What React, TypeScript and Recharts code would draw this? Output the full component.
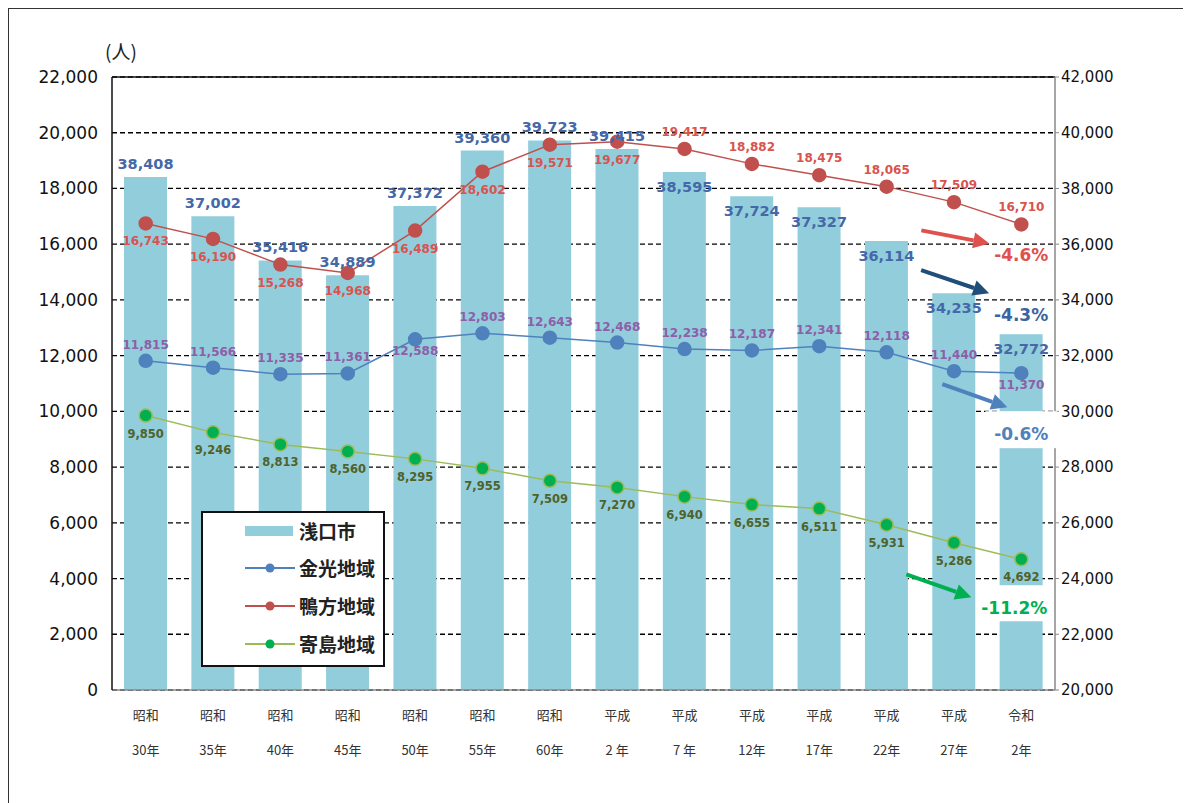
import React from "react";
import {
  ComposedChart,
  Bar,
  Line,
  XAxis,
  YAxis,
  CartesianGrid,
  ReferenceLine,
  LabelList,
} from "recharts";

const eras = ["昭和", "昭和", "昭和", "昭和", "昭和", "昭和", "昭和", "平成", "平成", "平成", "平成", "平成", "平成", "令和"];
const years = ["30年", "35年", "40年", "45年", "50年", "55年", "60年", "2 年", "7 年", "12年", "17年", "22年", "27年", "2年"];

const asakuchi = [38408, 37002, 35416, 34889, 37372, 39360, 39723, 39415, 38595, 37724, 37327, 36114, 34235, 32772];
const konko = [11815, 11566, 11335, 11361, 12588, 12803, 12643, 12468, 12238, 12187, 12341, 12118, 11440, 11370];
const kamogata = [16743, 16190, 15268, 14968, 16489, 18602, 19571, 19677, 19417, 18882, 18475, 18065, 17509, 16710];
const yorishima = [9850, 9246, 8813, 8560, 8295, 7955, 7509, 7270, 6940, 6655, 6511, 5931, 5286, 4692];

const leftTicks = [0, 2000, 4000, 6000, 8000, 10000, 12000, 14000, 16000, 18000, 20000, 22000];
const rightTicks = [20000, 22000, 24000, 26000, 28000, 30000, 32000, 34000, 36000, 38000, 40000, 42000];

const data = years.map((y, i) => ({
  name: eras[i] + y,
  asakuchi: asakuchi[i],
  konko: konko[i],
  kamogata: kamogata[i],
  yorishima: yorishima[i],
}));

const last = years.length - 1;
const fmt = (v: number) => v.toLocaleString("en-US");
const labelFont = "'DejaVu Sans', Verdana, sans-serif";

const Arrow = ({ x1, y1, x2, y2, color }: any) => {
  const a = Math.atan2(y2 - y1, x2 - x1);
  const len = 16;
  const w = 8;
  const bx = x2 - len * Math.cos(a);
  const by = y2 - len * Math.sin(a);
  const px = -Math.sin(a) * w;
  const py = Math.cos(a) * w;
  return (
    <g>
      <line x1={x1} y1={y1} x2={bx} y2={by} stroke={color} strokeWidth={4} />
      <polygon points={`${x2},${y2} ${bx + px},${by + py} ${bx - px},${by - py}`} fill={color} />
    </g>
  );
};

// white box behind the % text cuts a gap into the last bar, like the original
const PctText = ({ x, y, text, color, bg }: any) => (
  <g>
    {bg && <rect x={x - 36} y={y - 29} width={72} height={bg} fill="#fff" />}
    <text x={x} y={y} textAnchor="middle" fill={color} fontSize={17} fontWeight="bold" fontFamily={labelFont}>
      {text}
    </text>
  </g>
);

const BarLabel = (props: any) => {
  const { x, width, y, value, index } = props;
  const cx = x + width / 2;
  const inside = index >= 8;
  const ty = inside ? y + 20 : y - 8;
  return (
    <g>
      <text x={cx} y={ty} textAnchor="middle" fill="#4468a8" fontSize={14.5} fontWeight="bold" fontFamily={labelFont}>
        {fmt(value)}
      </text>
      {index === last && (
        <g>
          <Arrow x1={cx - 100} y1={y - 64} x2={cx - 32} y2={y - 41} color="#1f4e79" />
          <PctText x={cx} y={y - 13} text="-4.3%" color="#3a64a0" />
        </g>
      )}
    </g>
  );
};

const KonkoLabel = (props: any) => {
  const { x, y, value, index } = props;
  const below = index === 4 || index === last;
  return (
    <g>
      <text x={x} y={below ? y + 16 : y - 12} textAnchor="middle" fill="#8e5ea8" fontSize={12} fontWeight="bold" fontFamily={labelFont}>
        {fmt(value)}
      </text>
      {index === last && (
        <g>
          <Arrow x1={x - 79} y1={y + 11} x2={x - 14} y2={y + 34} color="#4f81bd" />
          <PctText x={x} y={y + 67} text="-0.6%" color="#4f81bd" bg={37} />
        </g>
      )}
    </g>
  );
};

const KamogataLabel = (props: any) => {
  const { x, y, value, index } = props;
  const above = index >= 8;
  return (
    <g>
      <text x={x} y={above ? y - 13 : y + 22} textAnchor="middle" fill="#d9534f" fontSize={12} fontWeight="bold" fontFamily={labelFont}>
        {fmt(value)}
      </text>
      {index === last && (
        <g>
          <Arrow x1={x - 100} y1={y + 6} x2={x - 32} y2={y + 19} color="#e0504d" />
          <PctText x={x} y={y + 37} text="-4.6%" color="#e0504d" />
        </g>
      )}
    </g>
  );
};

const YorishimaLabel = (props: any) => {
  const { x, y, value, index } = props;
  return (
    <g>
      <text x={x} y={y + 22} textAnchor="middle" fill="#4f6228" fontSize={11.5} fontWeight="bold" fontFamily={labelFont}>
        {fmt(value)}
      </text>
      {index === last && (
        <g>
          <Arrow x1={x - 115} y1={y + 15} x2={x - 50} y2={y + 38} color="#00b050" />
          <PctText x={x - 7} y={y + 55} text="-11.2%" color="#00b050" bg={36} />
        </g>
      )}
    </g>
  );
};

const CategoryTick = ({ x, y, payload }: any) => {
  const i = payload.index;
  return (
    <g fontFamily="'Noto Sans CJK JP', sans-serif" fontSize={13} fill="#333">
      <text x={x} y={y + 22} textAnchor="middle">{eras[i]}</text>
      <text x={x} y={y + 57} textAnchor="middle">{years[i]}</text>
    </g>
  );
};

const legendItems = [
  { name: "金光地域", color: "#4f81bd", dot: "#4f81bd" },
  { name: "鴨方地域", color: "#c0504d", dot: "#c0504d" },
  { name: "寄島地域", color: "#9bbb59", dot: "#00b050" },
];

const LegendBox = () => (
  <div
    style={{
      position: "absolute",
      left: 192,
      top: 502,
      width: 180,
      height: 152,
      border: "2px solid #111",
      background: "#fff",
      fontFamily: "'Noto Sans CJK JP', sans-serif",
      fontWeight: "bold",
      fontSize: 19,
      color: "#222",
    }}
  >
    <div style={{ position: "absolute", left: 42, top: 4, display: "flex", alignItems: "center" }}>
      <div style={{ width: 48, height: 10, background: "#92cddc", marginRight: 6 }} />
      <span>浅口市</span>
    </div>
    {legendItems.map((it, k) => (
      <div key={it.name} style={{ position: "absolute", left: 42, top: 41 + k * 38, display: "flex", alignItems: "center" }}>
        <svg width={50} height={12} style={{ marginRight: 4 }}>
          <line x1={0} y1={6} x2={50} y2={6} stroke={it.color} strokeWidth={2} />
          <circle cx={25} cy={6} r={4.5} fill={it.dot} />
        </svg>
        <span>{it.name}</span>
      </div>
    ))}
  </div>
);

export default function App() {
  return (
    <div style={{ position: "relative", width: 1174, height: 800, border: "1px solid #333", background: "#fff", overflow: "hidden" }}>
      <div style={{ position: "absolute", left: 96, top: 28, fontSize: 19, fontFamily: "'Noto Sans CJK JP', sans-serif", color: "#222" }}>
        (人)
      </div>
      <ComposedChart
        width={1174}
        height={790}
        data={data}
        margin={{ top: 68, right: 48, bottom: 29, left: 18 }}
      >
        <CartesianGrid yAxisId="left" vertical={false} stroke="#000" strokeDasharray="5 3" strokeWidth={1.3} />
        <XAxis
          dataKey="name"
          tick={<CategoryTick />}
          tickLine={false}
          axisLine={{ stroke: "#888", strokeWidth: 1.5 }}
          height={80}
          interval={0}
        />
        <YAxis
          yAxisId="left"
          domain={[0, 22000]}
          ticks={leftTicks}
          tickFormatter={fmt}
          width={85}
          tick={{ fill: "#111", fontSize: 17, fontFamily: "'DejaVu Sans', sans-serif" }}
          axisLine={{ stroke: "#111", strokeWidth: 1.5 }}
          tickLine={false}
          tickMargin={8}
        />
        <YAxis
          yAxisId="right"
          orientation="right"
          domain={[20000, 42000]}
          ticks={rightTicks}
          tickFormatter={fmt}
          width={80}
          tick={{ fill: "#111", fontSize: 15, fontFamily: "'DejaVu Sans', sans-serif" }}
          axisLine={{ stroke: "#888", strokeWidth: 1.5 }}
          tickLine={{ stroke: "#888" }}
          tickSize={4}
        />
        <ReferenceLine yAxisId="left" y={22000} stroke="#111" strokeWidth={1.5} />
        <Bar yAxisId="right" dataKey="asakuchi" fill="#92cddc" barSize={43} isAnimationActive={false}>
          <LabelList dataKey="asakuchi" content={<BarLabel />} />
        </Bar>
        <Line
          yAxisId="left"
          dataKey="konko"
          stroke="#4f81bd"
          strokeWidth={1.5}
          dot={{ r: 6.5, fill: "#4f81bd", stroke: "#4f81bd" }}
          isAnimationActive={false}
        >
          <LabelList dataKey="konko" content={<KonkoLabel />} />
        </Line>
        <Line
          yAxisId="left"
          dataKey="kamogata"
          stroke="#c0504d"
          strokeWidth={1.5}
          dot={{ r: 6.5, fill: "#c0504d", stroke: "#c0504d" }}
          isAnimationActive={false}
        >
          <LabelList dataKey="kamogata" content={<KamogataLabel />} />
        </Line>
        <Line
          yAxisId="left"
          dataKey="yorishima"
          stroke="#9bbb59"
          strokeWidth={1.5}
          dot={{ r: 6.5, fill: "#00b050", stroke: "#9bbb59", strokeWidth: 1.5 }}
          isAnimationActive={false}
        >
          <LabelList dataKey="yorishima" content={<YorishimaLabel />} />
        </Line>
      </ComposedChart>
      <LegendBox />
    </div>
  );
}
